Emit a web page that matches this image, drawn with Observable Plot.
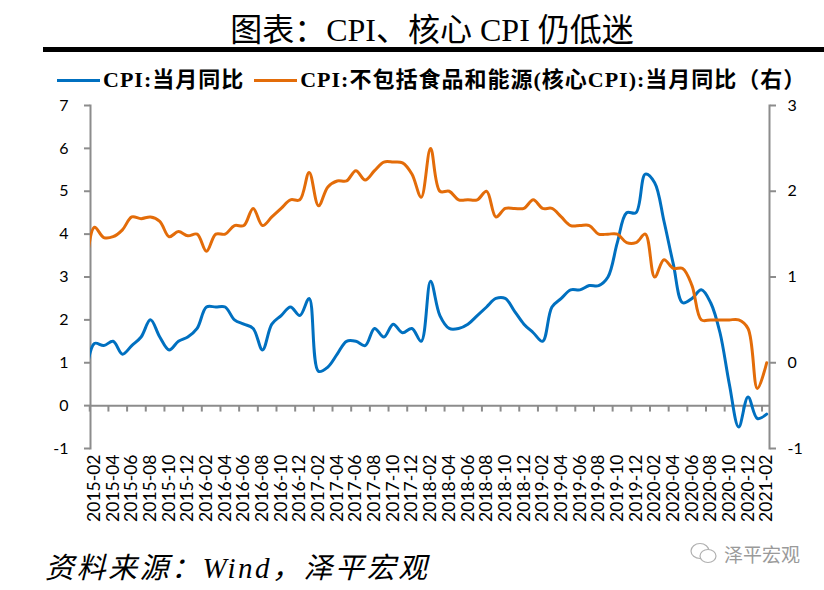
<!DOCTYPE html>
<html>
<head>
<meta charset="utf-8">
<script src="https://cdn.jsdelivr.net/npm/d3@7"></script>
<script src="https://cdn.jsdelivr.net/npm/@observablehq/plot@0.6"></script>
<style>
  html, body { margin: 0; padding: 0; background: #fff; }
  #wrap { position: relative; width: 824px; height: 590px; overflow: hidden; background: #fff; }
  #title { position: absolute; left: 0; width: 864px; top: 4px; text-align: center;
    font-family: "Liberation Serif", "Noto Sans CJK SC", serif; font-size: 32px; color: #000; }
  #bar { position: absolute; left: 43px; top: 47px; width: 781px; height: 5px; background: #000; }
  #legend { position: absolute; left: 57px; top: 69px; height: 22px; line-height: 22px; display: flex; align-items: center;
    font-family: "Liberation Serif", "Noto Sans CJK SC", serif; font-size: 22px; letter-spacing: 1px; font-weight: bold; color: #000; white-space: nowrap; }
  .sw { display: inline-block; width: 43px; height: 3px; margin-right: 3px; }
  #chart { position: absolute; left: 0; top: 95px; }
  #caption { position: absolute; left: 45px; top: 544px; font-family: "Liberation Serif", "Noto Sans CJK SC", serif;
    font-size: 29px; letter-spacing: 2.5px; font-style: italic; color: #000; white-space: nowrap; }
  #wm { position: absolute; left: 690px; top: 540px; font-family: "Noto Sans CJK SC", sans-serif; font-size: 19px; color: #9a9a9a; display: flex; align-items: center; }
</style>
</head>
<body>
<div id="wrap">
  <div id="title">图表：CPI、核心 CPI 仍低迷</div>
  <div id="bar"></div>
  <div id="legend">
    <span class="sw" style="background:#0070C0"></span><span>CPI:当月同比</span>
    <span class="sw" style="background:#E36C09;margin-left:10px"></span><span>CPI:不包括食品和能源(核心CPI):当月同比（右）</span>
  </div>
  <div id="chart"></div>
  <div id="caption">资料来源：Wind，泽平宏观</div>
  <div id="wm"><svg width="28" height="24" viewBox="0 0 28 24" style="margin-right:6px"><ellipse cx="10" cy="9" rx="9" ry="7.5" fill="none" stroke="#b0b0b0" stroke-width="1.2"/><ellipse cx="18" cy="14" rx="8" ry="6.5" fill="#fff" stroke="#b0b0b0" stroke-width="1.2"/></svg>泽平宏观</div>
</div>
<script>
// Months (category axis)
const months = [
  "2015-01","2015-02","2015-03","2015-04","2015-05","2015-06","2015-07","2015-08","2015-09","2015-10","2015-11","2015-12",
  "2016-01","2016-02","2016-03","2016-04","2016-05","2016-06","2016-07","2016-08","2016-09","2016-10","2016-11","2016-12",
  "2017-01","2017-02","2017-03","2017-04","2017-05","2017-06","2017-07","2017-08","2017-09","2017-10","2017-11","2017-12",
  "2018-01","2018-02","2018-03","2018-04","2018-05","2018-06","2018-07","2018-08","2018-09","2018-10","2018-11","2018-12",
  "2019-01","2019-02","2019-03","2019-04","2019-05","2019-06","2019-07","2019-08","2019-09","2019-10","2019-11","2019-12",
  "2020-01","2020-02","2020-03","2020-04","2020-05","2020-06","2020-07","2020-08","2020-09","2020-10","2020-11","2020-12",
  "2021-01","2021-02"
];
// CPI: 当月同比 (left axis, %)
const cpi = [
  0.6, 1.45, 1.4, 1.5, 1.2, 1.4, 1.6, 2.0, 1.6, 1.3, 1.5, 1.6,
  1.8, 2.3, 2.3, 2.3, 2.0, 1.9, 1.8, 1.3, 1.9, 2.1, 2.3, 2.1,
  2.5, 0.8, 0.9, 1.2, 1.5, 1.5, 1.4, 1.8, 1.6, 1.9, 1.7, 1.8,
  1.5, 2.9, 2.1, 1.8, 1.8, 1.9, 2.1, 2.3, 2.5, 2.5, 2.2, 1.9,
  1.7, 1.5, 2.3, 2.5, 2.7, 2.7, 2.8, 2.8, 3.0, 3.8, 4.5, 4.5,
  5.4, 5.2, 4.3, 3.3, 2.4, 2.5, 2.7, 2.4, 1.7, 0.5, -0.5, 0.2,
  -0.3, -0.2
];
// 核心CPI: 当月同比 (right axis, %)
const core = [
  1.0, 1.58, 1.46, 1.47, 1.55, 1.7, 1.68, 1.7, 1.65, 1.47, 1.53, 1.48,
  1.5, 1.3, 1.5, 1.5, 1.6, 1.6, 1.8, 1.6, 1.7, 1.8, 1.9, 1.9,
  2.22, 1.83, 2.05, 2.12, 2.12, 2.24, 2.13, 2.24, 2.34, 2.34, 2.33, 2.2,
  1.93, 2.5, 2.0, 2.0, 1.9, 1.9, 1.9, 2.0, 1.7, 1.8, 1.8, 1.8,
  1.9, 1.8, 1.8, 1.7, 1.6, 1.6, 1.6, 1.5, 1.5, 1.5, 1.4, 1.4,
  1.5, 1.0, 1.2, 1.1, 1.1, 0.9, 0.5, 0.5, 0.5, 0.5, 0.5, 0.4,
  -0.3, 0.0
];
// Axis ticks
const leftTicks = [-1, 0, 1, 2, 3, 4, 5, 6, 7];
const rightTicks = [-1, 0, 1, 2, 3];
const labelMonths = months.filter((m, i) => i % 2 === 1); // 2015-02 ... 2021-02

const axisColor = "#8c8c8c";
const blue = "#0070C0";
const orange = "#E36C09";

// secondary axis mapping: right value r -> left scale 2r+1
const toLeft = r => 2 * r + 1;

const idx = m => months.indexOf(m);
const cpiData = months.map((m, i) => ({i, v: cpi[i]}));
const coreData = months.map((m, i) => ({i, v: toLeft(core[i])}));
const tickMarks = months.map((m, i) => i - 0.5).filter((d, k) => k % 2 === 1);

const chart = Plot.plot({
  width: 824,
  height: 440,
  marginLeft: 90,
  marginRight: 55,
  marginTop: 10,
  marginBottom: 87,
  x: {type: "linear", domain: [0.58, 73.3], axis: null},
  y: {domain: [-1, 7], axis: null},
  style: {fontFamily: "Lato, 'Open Sans', sans-serif", color: "#000", background: "#fff"},
  marks: [
    Plot.frame({anchor: "left", stroke: axisColor, strokeWidth: 2}),
    Plot.frame({anchor: "right", stroke: axisColor, strokeWidth: 2}),
    Plot.ruleY([0], {stroke: axisColor, strokeWidth: 2}),
    Plot.ruleX(tickMarks, {x: d => d, y1: 0, y2: -0.15, stroke: axisColor, strokeWidth: 2}),
    Plot.axisY({anchor: "left", ticks: leftTicks, tickSize: 6, tickPadding: 16, stroke: axisColor, label: null,
      strokeWidth: 2, fill: "#000", fontSize: 16, tickFormat: d => String(d)}),
    Plot.axisY({anchor: "right", ticks: rightTicks.map(toLeft), tickSize: 6, tickPadding: 12, stroke: axisColor, label: null,
      strokeWidth: 2, fill: "#000", fontSize: 16, tickFormat: d => String((d - 1) / 2)}),
    Plot.axisX({anchor: "bottom", ticks: labelMonths.map(idx), tickSize: 0, tickPadding: 6, label: null,
      tickRotate: -90, tickFormat: i => months[i], fill: "#000", fontSize: 17.5}),
    Plot.line(cpiData, {x: "i", y: "v", stroke: blue, strokeWidth: 3, curve: "catmull-rom", clip: true}),
    Plot.line(coreData, {x: "i", y: "v", stroke: orange, strokeWidth: 3, curve: "catmull-rom", clip: true})
  ]
});
document.getElementById("chart").appendChild(chart);
</script>
</body>
</html>
